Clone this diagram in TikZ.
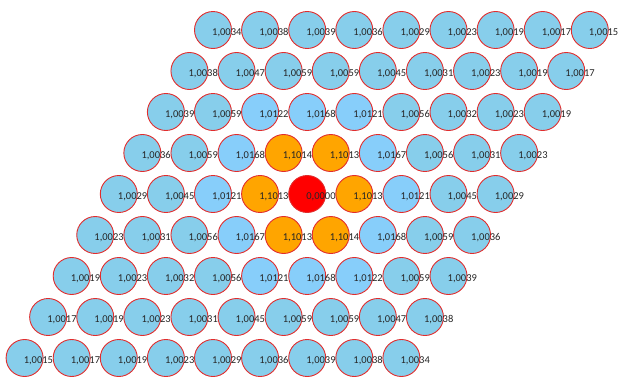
\documentclass[tikz,border=0pt]{standalone}
\usepackage{fontspec}
\setmainfont{Carlito}
\definecolor{cellblue}{RGB}{135,206,235}
\definecolor{nearblue}{RGB}{135,206,250}
\definecolor{ringorange}{RGB}{255,165,0}
\definecolor{cellborder}{RGB}{225,45,45}
\tikzset{
  cell/.style={circle,draw=cellborder,line width=0.9pt,fill=cellblue,minimum size=37pt,inner sep=0pt,label={[num]center:#1}},
  nearcell/.style={cell={#1},fill=nearblue},
  ringcell/.style={cell={#1},fill=ringorange},
  centrecell/.style={cell={#1},fill=red},
  num/.style={xshift=13.8pt,yshift=-3pt,inner sep=0pt,font=\fontsize{10.5}{12}\selectfont,text=black!85}
}

\begin{document}
\begin{tikzpicture}[x={(47.1pt,0pt)},y={(-23.55pt,-41pt)}]
  \useasboundingbox (-213pt,30pt) rectangle (406pt,-348pt);

  % row 0
  \node[cell={1,0034}] (c00) at (0,0) {}; \node[cell={1,0038}] (c01) at (1,0) {}; \node[cell={1,0039}] (c02) at (2,0) {};
  \node[cell={1,0036}] (c03) at (3,0) {}; \node[cell={1,0029}] (c04) at (4,0) {}; \node[cell={1,0023}] (c05) at (5,0) {};
  \node[cell={1,0019}] (c06) at (6,0) {}; \node[cell={1,0017}] (c07) at (7,0) {}; \node[cell={1,0015}] (c08) at (8,0) {};

  % row 1
  \node[cell={1,0038}] (c10) at (0,1) {}; \node[cell={1,0047}] (c11) at (1,1) {}; \node[cell={1,0059}] (c12) at (2,1) {};
  \node[cell={1,0059}] (c13) at (3,1) {}; \node[cell={1,0045}] (c14) at (4,1) {}; \node[cell={1,0031}] (c15) at (5,1) {};
  \node[cell={1,0023}] (c16) at (6,1) {}; \node[cell={1,0019}] (c17) at (7,1) {}; \node[cell={1,0017}] (c18) at (8,1) {};

  % row 2
  \node[cell={1,0039}] (c20) at (0,2) {}; \node[cell={1,0059}] (c21) at (1,2) {}; \node[nearcell={1,0122}] (c22) at (2,2) {};
  \node[nearcell={1,0168}] (c23) at (3,2) {}; \node[nearcell={1,0121}] (c24) at (4,2) {}; \node[cell={1,0056}] (c25) at (5,2) {};
  \node[cell={1,0032}] (c26) at (6,2) {}; \node[cell={1,0023}] (c27) at (7,2) {}; \node[cell={1,0019}] (c28) at (8,2) {};

  % row 3
  \node[cell={1,0036}] (c30) at (0,3) {}; \node[cell={1,0059}] (c31) at (1,3) {}; \node[nearcell={1,0168}] (c32) at (2,3) {};
  \node[ringcell={1,1014}] (c33) at (3,3) {}; \node[ringcell={1,1013}] (c34) at (4,3) {}; \node[nearcell={1,0167}] (c35) at (5,3) {};
  \node[cell={1,0056}] (c36) at (6,3) {}; \node[cell={1,0031}] (c37) at (7,3) {}; \node[cell={1,0023}] (c38) at (8,3) {};

  % row 4
  \node[cell={1,0029}] (c40) at (0,4) {}; \node[cell={1,0045}] (c41) at (1,4) {}; \node[nearcell={1,0121}] (c42) at (2,4) {};
  \node[ringcell={1,1013}] (c43) at (3,4) {}; \node[centrecell={0,0000}] (c44) at (4,4) {}; \node[ringcell={1,1013}] (c45) at (5,4) {};
  \node[nearcell={1,0121}] (c46) at (6,4) {}; \node[cell={1,0045}] (c47) at (7,4) {}; \node[cell={1,0029}] (c48) at (8,4) {};

  % row 5
  \node[cell={1,0023}] (c50) at (0,5) {}; \node[cell={1,0031}] (c51) at (1,5) {}; \node[cell={1,0056}] (c52) at (2,5) {};
  \node[nearcell={1,0167}] (c53) at (3,5) {}; \node[ringcell={1,1013}] (c54) at (4,5) {}; \node[ringcell={1,1014}] (c55) at (5,5) {};
  \node[nearcell={1,0168}] (c56) at (6,5) {}; \node[cell={1,0059}] (c57) at (7,5) {}; \node[cell={1,0036}] (c58) at (8,5) {};

  % row 6
  \node[cell={1,0019}] (c60) at (0,6) {}; \node[cell={1,0023}] (c61) at (1,6) {}; \node[cell={1,0032}] (c62) at (2,6) {};
  \node[cell={1,0056}] (c63) at (3,6) {}; \node[nearcell={1,0121}] (c64) at (4,6) {}; \node[nearcell={1,0168}] (c65) at (5,6) {};
  \node[nearcell={1,0122}] (c66) at (6,6) {}; \node[cell={1,0059}] (c67) at (7,6) {}; \node[cell={1,0039}] (c68) at (8,6) {};

  % row 7
  \node[cell={1,0017}] (c70) at (0,7) {}; \node[cell={1,0019}] (c71) at (1,7) {}; \node[cell={1,0023}] (c72) at (2,7) {};
  \node[cell={1,0031}] (c73) at (3,7) {}; \node[cell={1,0045}] (c74) at (4,7) {}; \node[cell={1,0059}] (c75) at (5,7) {};
  \node[cell={1,0059}] (c76) at (6,7) {}; \node[cell={1,0047}] (c77) at (7,7) {}; \node[cell={1,0038}] (c78) at (8,7) {};

  % row 8
  \node[cell={1,0015}] (c80) at (0,8) {}; \node[cell={1,0017}] (c81) at (1,8) {}; \node[cell={1,0019}] (c82) at (2,8) {};
  \node[cell={1,0023}] (c83) at (3,8) {}; \node[cell={1,0029}] (c84) at (4,8) {}; \node[cell={1,0036}] (c85) at (5,8) {};
  \node[cell={1,0039}] (c86) at (6,8) {}; \node[cell={1,0038}] (c87) at (7,8) {}; \node[cell={1,0034}] (c88) at (8,8) {};
\end{tikzpicture}
\end{document}
